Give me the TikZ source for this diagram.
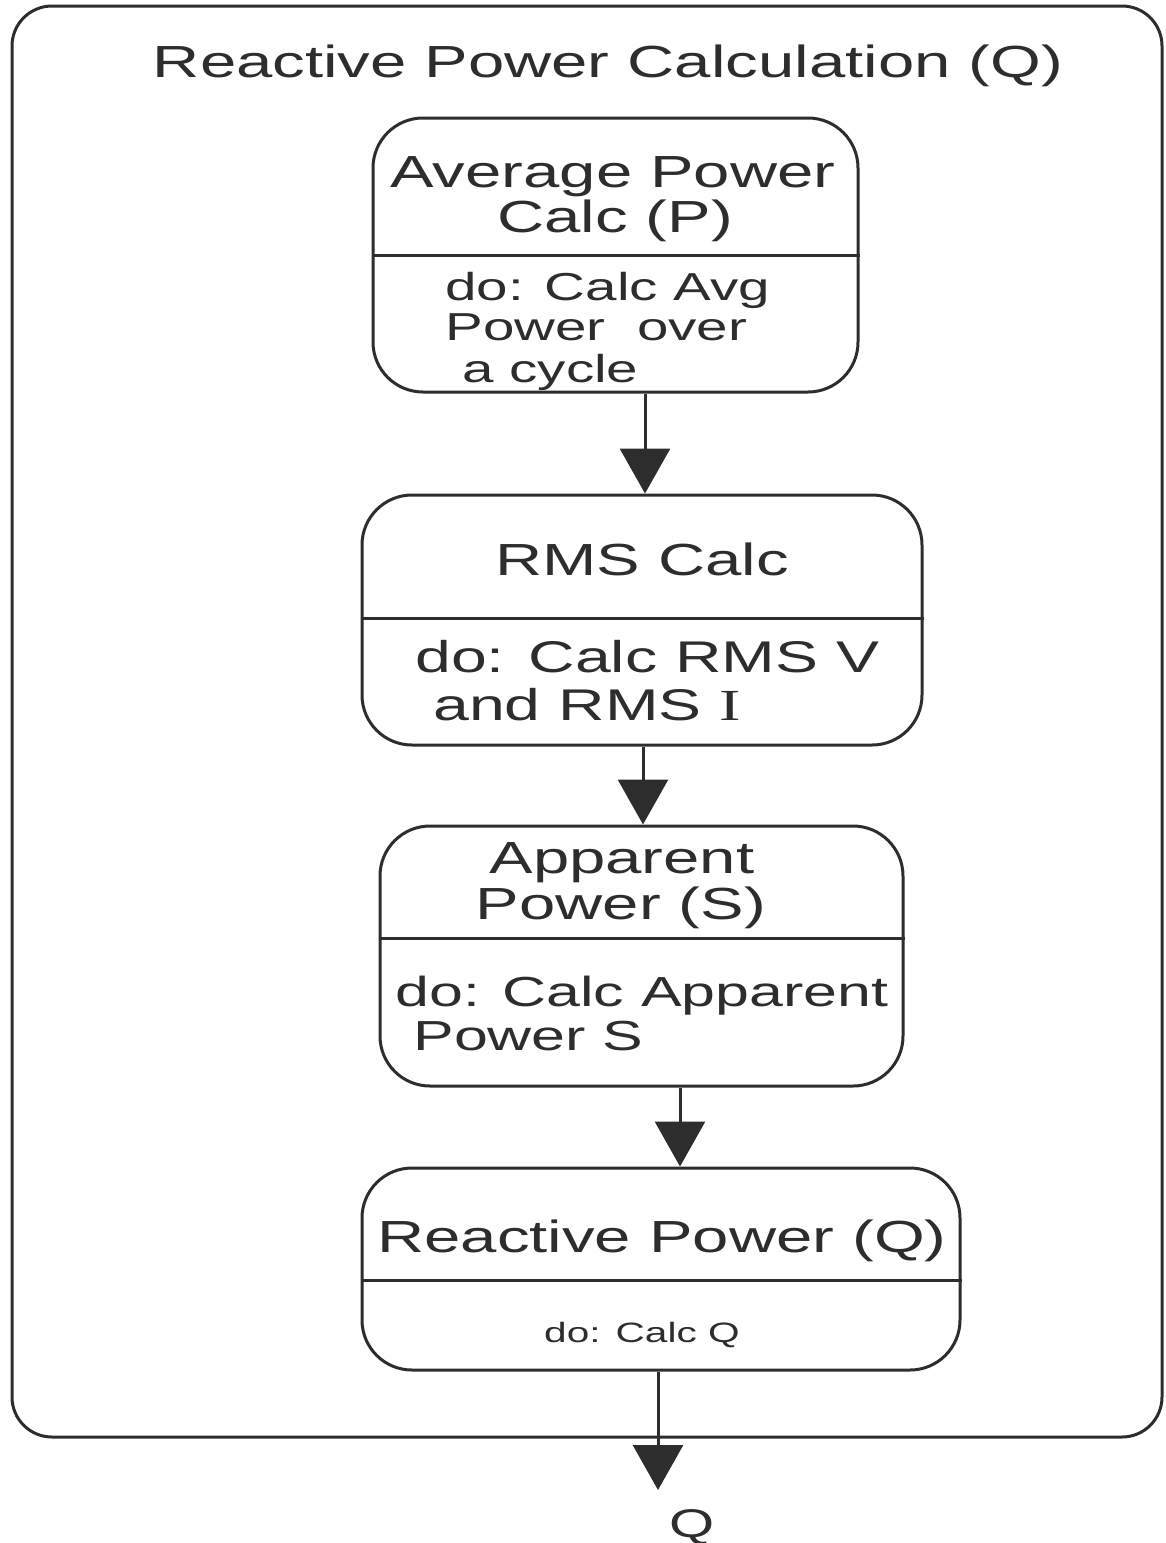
\documentclass[tikz,border=0pt]{standalone}
\usepackage{fontspec}
\setmainfont{Liberation Sans}[FakeStretch=1.45]
\newfontfamily\serifletter{Liberation Serif}[FakeStretch=1.45]
\usetikzlibrary{arrows.meta}
\definecolor{ink}{RGB}{45,45,45}
\tikzset{
  frame/.style={draw=ink, line width=1.5pt, rounded corners=20pt},
  stbox/.style={draw=ink, line width=1.5pt, rounded corners=25pt, inner sep=0pt},
  divider/.style={draw=ink, line width=1.5pt},
  flow/.style={draw=ink, line width=1.5pt, -{Triangle[length=22.5pt,width=25pt]}},
  head/.style={anchor=base, inner sep=0pt, text=ink, font=\fontsize{22.5}{27}\selectfont},
  body/.style={anchor=base west, inner sep=0pt, text=ink, font=\fontsize{21}{25}\selectfont},
  small/.style={anchor=base, inner sep=0pt, text=ink, font=\fontsize{14}{17}\selectfont},
}
\begin{document}
\begin{tikzpicture}[x=0.5pt,y=-0.5pt]
\useasboundingbox (0,0) rectangle (1166,1543);

% enclosing state
\draw[frame] (12,6) rectangle (1162,1437);
\node[head] (title) at (608,77) {Reactive Power Calculation (Q)};

% sub-states
\node[stbox, minimum width=242.5pt, minimum height=137pt] (avg) at (615.5,255) {};
\node[stbox, minimum width=280pt, minimum height=125pt] (rms) at (642,620) {};
\node[stbox, minimum width=261.5pt, minimum height=130pt] (app) at (641.5,956) {};
\node[stbox, minimum width=299pt, minimum height=101pt] (rea) at (661,1269) {};

% compartment dividers
\draw[divider] (avg.west) -- (avg.east);
\draw[divider] ([yshift=1pt]rms.west) -- ([yshift=1pt]rms.east);
\draw[divider] ([yshift=9pt]app.west) -- ([yshift=9pt]app.east);
\draw[divider] ([yshift=-5.5pt]rea.west) -- ([yshift=-5.5pt]rea.east);

% state names
\node[head] (avgA) at (613,187) {Average Power};
\node[head] (avgB) at (615,232) {Calc (P)};
\node[head] (rmsA) at (642,575) {RMS Calc};
\node[head] (appA) at (622,873) {Apparent};
\node[head] (appB) at (621,919) {Power (S)};
\node[head] (reaA) at (662,1252) {Reactive Power (Q)};

% activities
\begin{scope}[body/.append style={font=\fontsize{19.5}{23}\selectfont}]
\node[body] (avgD1) at (445,300) {do: Calc Avg};
\node[body] (avgD2) at (445,340) {Power\ \ over};
\node[body] (avgD3) at (462,382) {a cycle};
\end{scope}
\begin{scope}[body/.append style={font=\fontsize{22.2}{26}\selectfont}]
\node[body] (rmsD1) at (415,672) {do: Calc RMS V};
\node[body] (rmsD2) at (433,720) {and RMS {\serifletter I}};
\end{scope}
\node[body] (appD1) at (395,1006) {do: Calc Apparent};
\node[body] (appD2) at (413,1050) {Power S};
\node[small] (reaD1) at (642,1342) {do: Calc Q};

% transitions
\coordinate (x1) at (645,0);
\coordinate (x2) at (643,0);
\coordinate (x3) at (680,0);
\coordinate (x4) at (658,0);
\coordinate (qend) at (658,1490);
\draw[flow] (avg.south -| x1) -- (rms.north -| x1);
\draw[flow] (rms.south -| x2) -- (app.north -| x2);
\draw[flow] (app.south -| x3) -- (rea.north -| x3);
\draw[flow] (rea.south -| x4) -- (qend);

\node[head, font=\fontsize{20}{24}\selectfont] (qout) at (692,1537) {Q};
\end{tikzpicture}
\end{document}
